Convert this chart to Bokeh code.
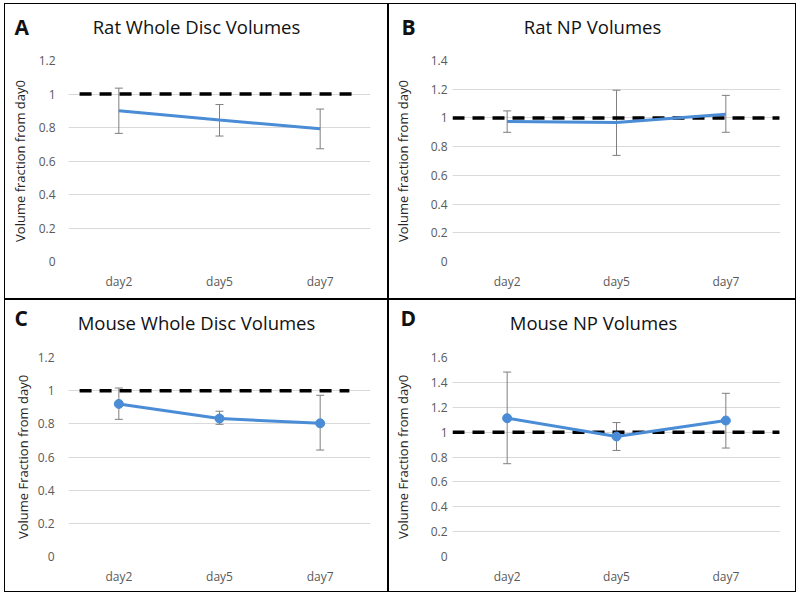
from bokeh.plotting import figure
from bokeh.models import (ColumnDataSource, Whisker, TeeHead, Label, FixedTicker,
                          NumeralTickFormatter, Range1d)
from bokeh.layouts import gridplot
from bokeh.embed import file_html
from bokeh.resources import INLINE

# ---------------- data ----------------
days = ["day2", "day5", "day7"]
baseline = 1.0

rat_disc_mean = [0.900, 0.845, 0.792]
rat_disc_upper = [1.035, 0.937, 0.910]
rat_disc_lower = [0.765, 0.749, 0.673]

rat_np_mean = [0.975, 0.968, 1.026]
rat_np_upper = [1.049, 1.193, 1.157]
rat_np_lower = [0.900, 0.739, 0.900]

mouse_disc_mean = [0.920, 0.832, 0.803]
mouse_disc_upper = [1.016, 0.876, 0.972]
mouse_disc_lower = [0.827, 0.797, 0.642]

mouse_np_mean = [1.112, 0.965, 1.093]
mouse_np_upper = [1.483, 1.077, 1.312]
mouse_np_lower = [0.746, 0.853, 0.872]

ticks_12 = [0, 0.2, 0.4, 0.6, 0.8, 1, 1.2]
ticks_14 = [0, 0.2, 0.4, 0.6, 0.8, 1, 1.2, 1.4]
ticks_16 = [0, 0.2, 0.4, 0.6, 0.8, 1, 1.2, 1.4, 1.6]

# ---------------- style ----------------
FONT = "Open Sans"
BLUE = "#4A8CD6"
GRID = "#D9D9D9"
ERR = "#7F7F7F"
TICK_COLOR = "#595959"
LABEL_COLOR = "#262626"
Y_FIX = -10  # empirical shift of canvas-unit labels placed in the "above" panel


def panel(letter, title, ylabel, mean, upper, lower, ticks, markers,
          width, height, margins, tick_standoff, label_standoff,
          base_span, title_xy, letter_xy):
    ml, mr, mt, mb = margins
    p = figure(x_range=days, y_range=Range1d(ticks[0], ticks[-1]),
               width=width, height=height, output_backend="svg",
               toolbar_location=None, min_border_left=ml, min_border_right=mr,
               min_border_top=mt, min_border_bottom=mb,
               styles={"border": "1px solid black"})
    p.outline_line_color = None
    p.xgrid.grid_line_color = None
    p.ygrid.grid_line_color = GRID
    p.ygrid.grid_line_width = 1
    p.yaxis.ticker = FixedTicker(ticks=ticks)
    p.yaxis.formatter = NumeralTickFormatter(format="0.[0]")
    for ax in (p.xaxis, p.yaxis):
        ax.axis_line_color = None
        ax.major_tick_line_color = None
        ax.minor_tick_line_color = None
        ax.major_tick_out = 0
        ax.major_tick_in = 0
        ax.major_label_text_font = FONT
        ax.major_label_text_font_size = "12px"
        ax.major_label_text_color = TICK_COLOR
    p.yaxis.major_label_standoff = tick_standoff
    p.xaxis.major_label_standoff = 11
    p.yaxis.axis_label = ylabel
    p.yaxis.axis_label_text_font = FONT
    p.yaxis.axis_label_text_font_size = "13px"
    p.yaxis.axis_label_text_font_style = "normal"
    p.yaxis.axis_label_text_color = LABEL_COLOR
    p.yaxis.axis_label_standoff = label_standoff

    # dashed day0 reference line
    p.line(x=[(days[0], base_span[0]), (days[-1], base_span[1])],
           y=[baseline, baseline], line_color="black", line_width=3.5,
           line_dash="12 8")

    src = ColumnDataSource(dict(x=days, y=mean, upper=upper, lower=lower))
    p.line("x", "y", source=src, line_color=BLUE, line_width=3)
    if markers:
        p.scatter("x", "y", source=src, size=9, fill_color=BLUE,
                  line_color=BLUE)
    w = Whisker(base="x", upper="upper", lower="lower", source=src,
                line_color=ERR, line_width=1,
                upper_head=TeeHead(size=8, line_color=ERR, line_width=1),
                lower_head=TeeHead(size=8, line_color=ERR, line_width=1))
    p.add_layout(w)

    for txt, (cx, cy), size, style, align in (
            (title, title_xy, "18.5px", "normal", "center"),
            (letter, letter_xy, "21px", "bold", "left")):
        lab = Label(x=cx, y=cy + Y_FIX, x_units="canvas", y_units="canvas",
                    text=txt, text_font=FONT, text_font_size=size,
                    text_font_style=style, text_color="#111111",
                    text_align=align, text_baseline="alphabetic")
        p.add_layout(lab, "above")
    return p


a = panel("A", "Rat Whole Disc Volumes", "Volume fraction from day0",
          rat_disc_mean, rat_disc_upper, rat_disc_lower, ticks_12, False,
          384, 296, (63, 19, 56, 39), 13, 7, (-0.39, 0.35),
          (190, 31), (8, 31))
b = panel("B", "Rat NP Volumes", "Volume fraction from day0",
          rat_np_mean, rat_np_upper, rat_np_lower, ticks_14, False,
          408, 296, (63, 17, 56, 37), 5, 16, (-0.5, 0.49),
          (202, 31), (11, 31))
c = panel("C", "Mouse Whole Disc Volumes", "Volume Fraction from day0",
          mouse_disc_mean, mouse_disc_upper, mouse_disc_lower, ticks_12, True,
          384, 293, (63, 13, 57, 36), 14, 3, (-0.39, 0.29),
          (190, 31), (8, 26))
d = panel("D", "Mouse NP Volumes", "Volume Fraction from day0",
          mouse_np_mean, mouse_np_upper, mouse_np_lower, ticks_16, True,
          408, 293, (63, 17, 56, 37), 5, 16, (-0.5, 0.49),
          (203, 31), (10, 26))

grid = gridplot([[a, b], [c, d]], toolbar_location=None)
grid.styles = {"margin-left": "4px", "margin-top": "3px"}

open("out.html", "w").write(file_html(grid, INLINE))
